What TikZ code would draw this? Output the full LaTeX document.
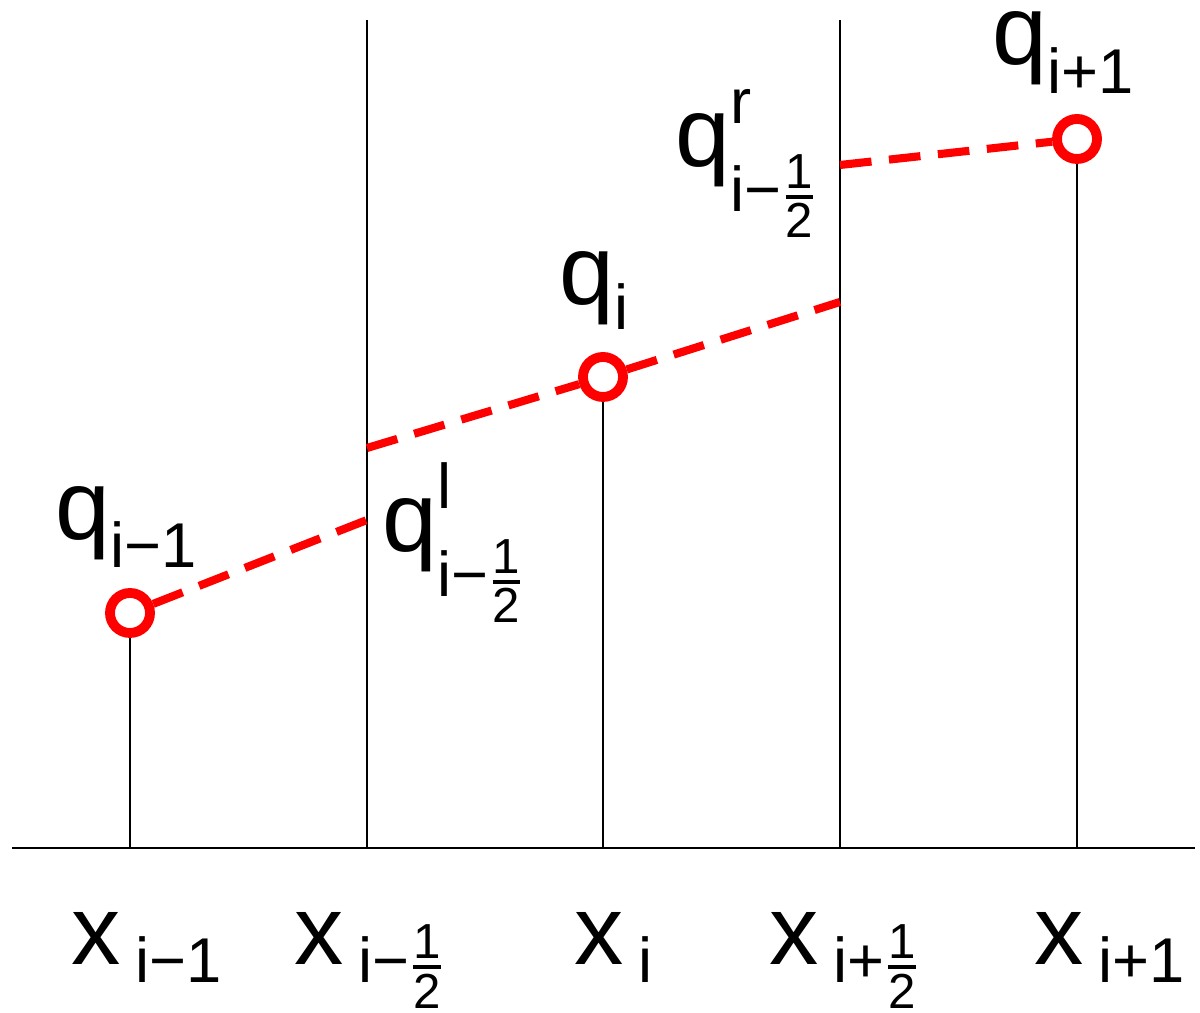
\documentclass[tikz,border=0pt]{standalone}
\usepackage{fontspec}
\setmainfont{Liberation Sans}
\setsansfont{Liberation Sans}
\usepackage{tikz}
\DeclareMathSizes{18}{18}{14}{10}
\tikzstyle{cell} = [line width=0.6pt, draw=black]
\tikzstyle{dot} = [circle, draw=red, line width=2.8pt, minimum size=0.4cm, inner sep=0pt]
\tikzstyle{recon} = [red, line width=2.3pt, dash pattern=on 9pt off 5pt]
\tikzstyle{lbl} = [inner sep=0pt, anchor=base west, font=\fontsize{28}{32}\selectfont]
% lowered subscript, raised superscript, one half
\newcommand{\sbs}[2]{\raisebox{-#1}{\fontsize{18}{20}\selectfont #2}}
\newcommand{\sps}[2]{\makebox[0pt][l]{\raisebox{#1}{\fontsize{18}{20}\selectfont #2}}}
\newcommand{\hlf}{${\mathsf{1}\above1.2pt\mathsf{2}}$}

\begin{document}
\begin{tikzpicture}[x=0.01cm, y=0.01cm]
\useasboundingbox (0,0) rectangle (1200,1013);

% axis and cell faces
\coordinate (axl) at (12,165);
\coordinate (axr) at (1195,165);
\coordinate (fl0) at (367,165);
\coordinate (fl1) at (367,993);
\coordinate (fr0) at (840,165);
\coordinate (fr1) at (840,993);
\draw [cell] (axl) -- (axr);
\draw [cell] (fl0) -- (fl1);
\draw [cell] (fr0) -- (fr1);

% cell averages
\node (qa) [dot] at (130,400) {};
\node (qb) [dot] at (603,636) {};
\node (qc) [dot] at (1077,874) {};
\coordinate (sa) at (130,165);
\coordinate (sb) at (603,165);
\coordinate (sc) at (1077,165);
\draw [cell] (sa) -- (qa);
\draw [cell] (sb) -- (qb);
\draw [cell] (sc) -- (qc);

% reconstruction
\coordinate (la) at (367,493);
\coordinate (lb) at (367,565);
\coordinate (rb) at (840,711);
\coordinate (rc) at (840,848);
\draw [recon] (qa) -- (la);
\draw [recon] (lb) -- (qb);
\draw [recon] (qb) -- (rb);
\draw [recon] (rc) -- (qc);

% labels
\node (tqa) [lbl] at (55,473) {q\sbs{7.7pt}{i−1}};
\node (tql) [lbl] at (382,461) {q\sps{12.5pt}{l}\sbs{12.8pt}{i−\hlf}};
\node (tqb) [lbl] at (559,708) {q\sbs{7pt}{i}};
\node (tqr) [lbl] at (675,846) {q\sps{12.5pt}{r}\sbs{12.8pt}{i−\hlf}};
\node (tqc) [lbl] at (992,948) {q\sbs{8pt}{i+1}};

\node (xa) [lbl] at (71,48) {x\hspace{4pt}\sbs{5pt}{i−1}};
\node (xl) [lbl] at (294,48) {x\hspace{4pt}\sbs{5pt}{i−\hlf}};
\node (xb) [lbl] at (574,48) {x\hspace{4pt}\sbs{5pt}{i}};
\node (xr) [lbl] at (769,48) {x\hspace{4pt}\sbs{5pt}{i+\hlf}};
\node (xc) [lbl] at (1034,48) {x\hspace{4pt}\sbs{5pt}{i+1}};

\end{tikzpicture}
\end{document}
